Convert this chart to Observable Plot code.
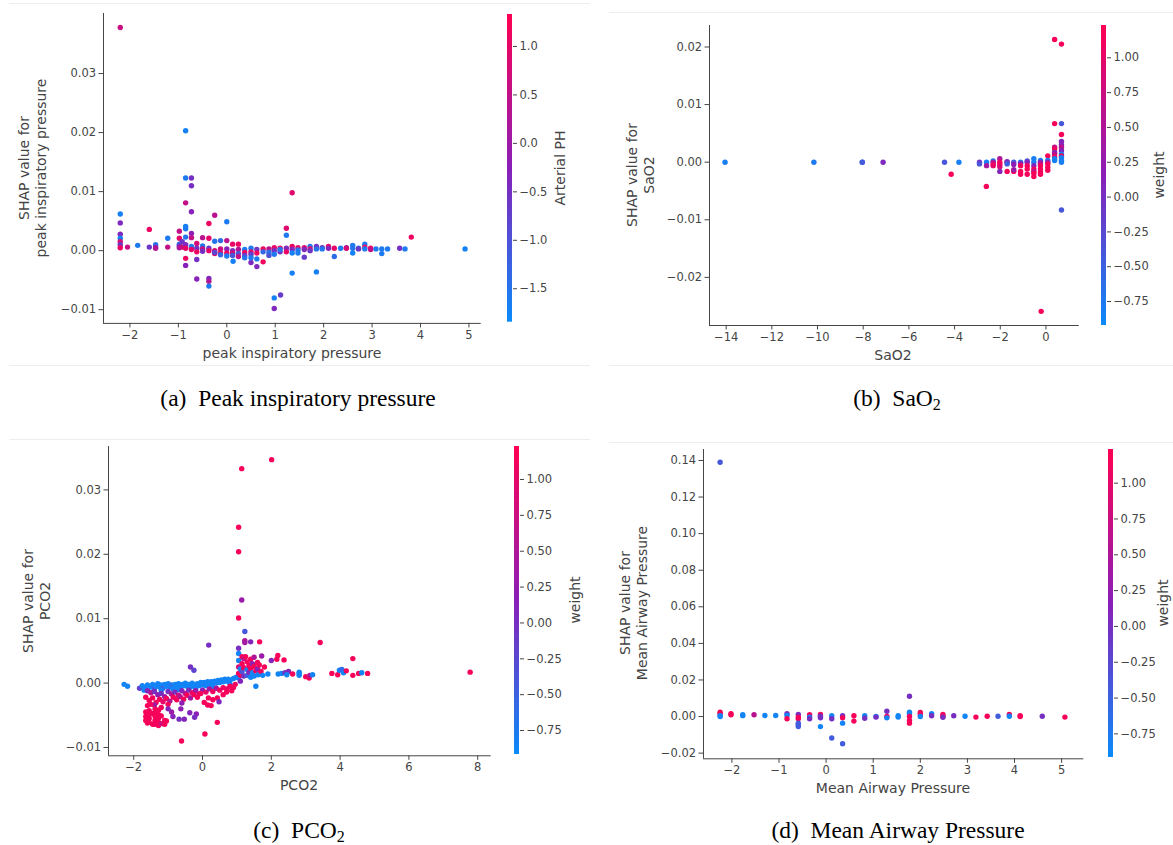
<!DOCTYPE html>
<html><head><meta charset="utf-8">
<script src="https://cdn.jsdelivr.net/npm/d3@7"></script>
<script src="https://cdn.jsdelivr.net/npm/@observablehq/plot@0.6"></script>
<style>
html,body{margin:0;padding:0;background:#fff;}
body{width:1173px;height:845px;position:relative;overflow:hidden;font-family:"DejaVu Sans",sans-serif;}
.abs{position:absolute;}
.lbl{position:absolute;color:#444;font-size:14px;white-space:nowrap;transform:translate(-50%,-50%);text-align:center;line-height:17px;}
.rot{transform:translate(-50%,-50%) rotate(-90deg);}
.cap{position:absolute;font-family:"Liberation Serif",serif;font-size:23.5px;color:#000;white-space:nowrap;transform:translate(-50%,-50%);line-height:26px;}
.cap sub{font-size:16px;vertical-align:-4px;line-height:0;}
.edge{position:absolute;height:1px;background:#eeeeee;}
</style></head>
<body>
<script>
// ---------- DATA ----------
// (a) Peak inspiratory pressure: [feature value, SHAP value, Arterial PH]
const pipPoints = [
 [-2.2,0.0378,0.6],[-2.2,0.0062,-1.7],[-2.2,0.0047,-0.4],[-2.2,0.0028,-0.4],[-2.2,0.0021,-1.7],[-2.2,0.0015,0.8],[-2.2,0.0010,-0.6],[-2.2,0.0005,1.1],
 [-2.05,0.0006,0.6],[-1.84,0.0009,-1.6],[-1.6,0.0036,1.1],[-1.6,0.0006,-0.6],
 [-1.47,0.0010,-1.5],[-1.47,0.0006,-0.5],[-1.47,0.0004,0.3],[-1.22,0.0021,-1.6],[-1.22,0.0006,0.5],
 [-0.98,0.0033,0.5],[-0.98,0.0021,1.0],[-0.98,0.0011,-1.5],[-0.98,0.0008,-0.5],[-0.98,0.0005,0.2],
 [-0.92,0.0015,-0.6],[-0.92,0.0006,0.6],
 [-0.85,0.0203,-1.7],[-0.85,0.0123,-1.6],[-0.85,0.0081,0.5],[-0.85,0.0041,-1.7],[-0.85,0.0037,-1.6],[-0.85,0.0023,-1.5],[-0.85,0.0010,-0.4],[-0.85,0.0004,1.0],[-0.85,-0.0013,1.1],[-0.85,-0.0025,-0.3],
 [-0.73,0.0123,-0.5],[-0.73,0.0110,-0.5],[-0.73,0.0066,-0.3],[-0.73,0.0029,-0.2],[-0.73,0.0022,0.5],[-0.73,0.0007,-1.6],[-0.73,0.0002,1.0],
 [-0.62,0.0012,0.8],[-0.62,0.0004,-0.5],[-0.62,-0.0002,1.1],[-0.62,-0.0015,-0.5],[-0.62,-0.0048,-0.3],
 [-0.5,0.0022,0.4],[-0.5,0.0008,-1.5],[-0.5,0.0003,0.7],[-0.5,-0.0001,-0.5],
 [-0.37,0.0046,1.1],[-0.37,0.0021,1.0],[-0.37,0.0004,-0.6],[-0.37,0.0,1.0],[-0.37,-0.0047,-0.4],[-0.37,-0.0052,0.3],[-0.37,-0.0060,-1.6],
 [-0.25,0.0060,0.4],[-0.25,0.0016,-1.5],[-0.25,0.0,0.8],[-0.25,-0.0005,1.0],[-0.25,-0.0003,-0.8],
 [-0.13,0.0017,-1.4],[-0.13,0.0003,0.6],[-0.13,-0.0004,1.0],[-0.13,-0.0007,-1.3],
 [0.0,0.0049,-1.6],[0.0,0.0017,0.4],[0.0,0.0003,-0.3],[0.0,-0.0004,1.1],[0.0,-0.0009,-1.6],
 [0.12,0.0011,1.0],[0.12,0.0,-0.5],[0.12,-0.0004,0.8],[0.13,-0.0018,-1.7],[0.12,-0.0008,-1.0],
 [0.24,0.0011,1.1],[0.24,0.0002,0.3],[0.24,-0.0005,-1.2],[0.24,-0.0010,0.5],
 [0.37,0.0002,-1.6],[0.37,-0.0003,1.1],[0.37,-0.0008,-0.6],[0.37,-0.0012,-1.5],
 [0.5,0.0004,-1.6],[0.5,-0.0002,1.0],[0.5,-0.0006,-0.7],[0.5,-0.0020,-0.4],[0.5,-0.0012,-1.6],
 [0.62,0.0002,-0.6],[0.62,-0.0004,1.1],[0.62,-0.0027,-0.4],[0.62,-0.0014,-1.6],
 [0.75,0.0003,1.1],[0.75,-0.0002,-1.3],[0.75,-0.0019,1.2],
 [0.87,0.0003,0.4],[0.87,-0.0003,-1.5],[0.87,-0.0008,-1.0],
 [0.98,0.0005,1.0],[0.98,0.0,-0.5],[0.98,-0.0006,-1.6],[0.98,-0.0080,-1.7],[0.98,-0.0098,-0.4],
 [1.11,-0.0075,-0.7],[1.1,0.0004,1.1],[1.1,-0.0002,-0.6],[1.1,0.0002,-1.5],
 [1.23,0.0038,0.9],[1.23,0.0026,-1.6],[1.23,0.0004,-0.4],[1.23,-0.0002,1.0],
 [1.35,0.0098,0.9],[1.35,0.0007,1.1],[1.35,0.0002,-0.4],[1.35,-0.0004,-1.7],[1.35,-0.0038,-1.7],
 [1.47,0.0005,1.0],[1.47,0.0001,-1.5],[1.47,-0.0004,-1.6],
 [1.6,0.0005,0.9],[1.6,0.0002,-0.4],[1.6,-0.0011,-0.7],
 [1.72,0.0007,-1.5],[1.72,0.0003,1.0],[1.72,0.0,-0.6],
 [1.85,0.0007,-0.5],[1.85,0.0003,-1.5],[1.85,-0.0036,-1.7],
 [1.97,0.0005,-0.5],[1.97,0.0003,-1.6],[2.1,0.0007,1.1],[2.1,0.0004,-0.3],
 [2.22,0.0004,1.0],[2.22,-0.0010,-1.4],[2.35,0.0004,-1.6],[2.47,0.0005,-0.5],[2.47,0.0004,0.8],
 [2.6,0.0009,-1.6],[2.6,0.0004,-1.5],[2.6,-0.0004,-1.7],[2.72,0.0004,-1.6],[2.72,0.0003,-0.6],
 [2.85,0.0011,-1.6],[2.85,0.0006,1.1],[2.85,0.0003,-1.6],[2.97,0.0004,1.1],[2.97,0.0002,0.5],
 [3.08,0.0003,-1.6],[3.2,0.0003,-1.6],[3.2,-0.0005,-1.6],[3.32,0.0003,-1.6],
 [3.57,0.0004,-0.5],[3.68,0.0003,-1.6],[3.81,0.0023,1.1],[4.92,0.0003,-1.7]
];
// (b) SaO2: [feature value, SHAP value, weight]
const sao2Points = [
 [-14.05,0,-0.8],[-10.16,0,-0.75],[-8.04,0,-0.5],[-8.04,0,-0.45],[-7.13,0,0.05],[-4.44,0,-0.4],[-3.81,0,-0.8],
 [-4.15,-0.0021,1.15],[-2.61,-0.0042,1.15],
 [-2.91,0,0.0],[-2.91,-0.0003,-0.4],[-2.6,0,-0.8],[-2.6,-0.0006,0.4],
 [-2.31,0.0002,-0.8],[-2.31,0,0.4],[-2.31,-0.0004,1.15],[-2.31,-0.0006,1.0],
 [-2.02,0.0006,0.5],[-2.02,0,1.1],[-2.02,-0.0004,1.15],[-2.02,-0.0008,0.9],[-2.02,-0.0016,0.1],
 [-1.7,0,1.15],[-1.7,0.0001,0.0],[-1.7,-0.0003,-0.5],[-1.7,-0.0016,1.15],
 [-1.41,0,-0.4],[-1.41,-0.0004,0.2],[-1.41,-0.0016,1.15],[-1.41,-0.0013,0.3],
 [-1.11,0,-0.8],[-1.11,-0.0002,0.1],[-1.11,-0.0006,1.15],[-1.11,-0.0016,1.15],[-1.11,-0.0021,1.15],
 [-0.82,0.0002,-0.4],[-0.82,0,0.1],[-0.82,-0.0006,1.15],[-0.82,-0.0012,1.15],[-0.82,-0.0021,1.15],
 [-0.53,0.0006,-0.8],[-0.53,0,-0.8],[-0.53,-0.0006,0.1],[-0.53,-0.0012,1.15],[-0.53,-0.0016,0.6],[-0.53,-0.0019,1.15],[-0.53,-0.0025,1.15],
 [-0.24,0.0003,-0.8],[-0.24,0,0.1],[-0.24,-0.0003,0.6],[-0.24,-0.0006,1.15],[-0.24,-0.0012,1.15],[-0.24,-0.0017,1.15],[-0.24,-0.0021,1.15],
 [0.08,0.0011,1.15],[0.08,0.0003,-0.8],[0.08,0,0.1],[0.08,-0.0003,1.15],[0.08,-0.0009,1.15],[0.08,-0.0014,1.15],
 [0.38,0.0213,1.15],[0.38,0.0067,1.15],[0.38,0.0026,0.6],[0.38,0.0023,1.15],[0.38,0.0017,0.1],[0.38,0.0014,0.6],[0.38,0.0009,1.15],[0.38,0.0006,-0.8],[0.38,0.0003,-0.8],
 [0.68,0.0205,1.15],[0.68,0.0067,-0.4],[0.68,0.0048,1.15],[0.68,0.0036,0.1],[0.68,0.0030,0.1],[0.68,0.0026,0.6],[0.68,0.0020,0.1],[0.68,0.0014,-0.8],[0.68,0.0011,1.15],[0.68,0.0008,-0.8],[0.68,0.0003,-0.8],[0.68,0.0,-0.8],[0.68,-0.0083,-0.4],
 [-0.21,-0.0259,1.15]
];
// (c) PCO2: [feature value, SHAP value, weight]
const pco2Points = [
 [-2.28,-0.0002,-0.85],[-2.18,-0.0005,-0.85],[-1.83,-0.0008,-0.2],
 [-1.75,-0.0004,-0.85],[-1.65,-0.0007,-0.85],[-1.6,-0.0003,-0.85],[-1.5,-0.0006,-0.85],[-1.45,-0.0002,-0.85],[-1.4,-0.0008,-0.6],[-1.35,-0.0004,-0.85],[-1.3,-0.0001,-0.85],[-1.25,-0.0006,-0.85],[-1.2,-0.0003,-0.85],[-1.15,-0.0008,-0.5],[-1.1,-0.0002,-0.85],[-1.05,-0.0005,-0.85],[-1.0,-0.0001,-0.85],[-0.95,-0.0006,-0.85],[-0.9,-0.0003,-0.7],[-0.85,-0.0009,-0.85],[-0.8,-0.0002,-0.85],[-0.75,-0.0005,-0.85],[-0.7,-0.0001,-0.85],[-0.65,-0.0006,-0.85],[-0.6,-0.0002,-0.85],[-0.55,-0.0004,-0.85],[-0.5,0.0,-0.85],[-0.45,-0.0005,-0.85],[-0.4,-0.0002,-0.85],[-0.35,-0.0006,-0.85],[-0.3,0.0,-0.85],[-0.25,-0.0003,-0.85],[-0.2,-0.0007,-0.85],[-0.15,-0.0001,-0.85],[-0.1,-0.0004,-0.85],[-0.05,0.0001,-0.85],[0.0,-0.0003,-0.85],[0.05,0.0001,-0.85],[0.1,-0.0004,-0.85],[0.15,0.0002,-0.85],[0.2,-0.0002,-0.85],[0.25,0.0002,-0.85],[0.3,-0.0001,-0.85],[0.35,0.0003,-0.85],[0.4,0.0,-0.85],[0.45,0.0004,-0.85],[0.5,0.0001,-0.85],[0.55,0.0005,-0.85],[0.6,0.0002,-0.85],[0.65,0.0006,-0.85],[0.7,0.0003,-0.85],[0.75,0.0006,-0.85],[0.8,0.0004,-0.85],[0.9,0.0007,-0.85],[0.98,0.0009,-0.85],
 [-1.7,-0.0011,-0.85],[-1.2,-0.0011,-0.85],[-0.7,-0.0010,-0.85],[-0.2,-0.0010,-0.85],[0.3,-0.0007,-0.85],[0.8,-0.0002,-0.85],
 [-1.6,-0.0012,0.1],[-1.5,-0.0015,0.6],[-1.4,-0.0013,0.0],[-1.3,-0.0018,0.2],[-1.2,-0.0016,0.0],[-1.1,-0.0021,0.3],[-1.0,-0.0013,0.0],[-0.9,-0.0017,0.5],[-0.8,-0.0014,0.0],[-0.7,-0.0019,0.8],[-0.6,-0.0012,0.1],[-0.5,-0.0016,0.6],[-0.4,-0.0011,0.0],[-0.3,-0.0015,1.0],[-0.2,-0.0012,0.3],[-0.1,-0.0017,0.9],[0.0,-0.0011,0.2],[0.1,-0.0014,1.0],[0.2,-0.0009,0.4],[0.3,-0.0013,1.1],[0.4,-0.0008,0.5],[0.5,-0.0011,1.1],[0.6,-0.0007,1.1],[0.7,-0.0009,1.1],[0.8,-0.0005,1.1],[0.9,-0.0007,1.15],[0.95,-0.0002,1.1],
 [-1.65,-0.0022,1.15],[-1.55,-0.0027,1.15],[-1.45,-0.0023,1.15],[-1.35,-0.0030,1.15],[-1.25,-0.0025,1.15],[-1.15,-0.0029,1.0],[-1.05,-0.0024,1.15],[-0.95,-0.0028,0.5],[-0.85,-0.0022,1.15],[-0.75,-0.0026,1.15],[-0.65,-0.0021,0.6],[-0.55,-0.0025,1.15],[-0.45,-0.0019,1.15],[-0.35,-0.0023,0.4],[-0.25,-0.0018,1.15],[-0.15,-0.0022,1.15],[-0.05,-0.0016,1.15],[0.05,-0.0030,1.15],[0.17,-0.0023,1.15],[0.3,-0.0026,1.15],[0.43,-0.0023,1.15],[0.48,-0.0029,0.1],[0.6,-0.0018,1.15],[0.7,-0.0014,1.15],[0.85,-0.0012,1.15],
 [-1.4,-0.0034,0.3],[-1.0,-0.0033,1.15],[-0.6,-0.0031,0.2],[0.15,-0.0034,1.15],[0.25,-0.0035,1.15],
 [-1.65,-0.0045,1.15],[-1.65,-0.0052,1.15],[-1.65,-0.0058,1.15],[-1.6,-0.0062,1.15],
 [-1.55,-0.0043,1.15],[-1.55,-0.0049,1.15],[-1.55,-0.0055,1.15],[-1.55,-0.0061,1.15],
 [-1.45,-0.0047,1.15],[-1.45,-0.0064,1.15],
 [-1.38,-0.0040,1.15],[-1.38,-0.0046,1.15],[-1.38,-0.0052,1.15],[-1.38,-0.0058,1.15],[-1.38,-0.0064,1.15],
 [-1.28,-0.0042,1.15],[-1.28,-0.0049,1.15],[-1.28,-0.0055,1.15],[-1.28,-0.0061,1.15],[-1.28,-0.0066,1.15],
 [-1.2,-0.0038,1.15],[-1.2,-0.0051,1.15],[-1.2,-0.0063,0.8],
 [-1.1,-0.0058,1.15],[-1.1,-0.0064,1.15],[-1.05,-0.0059,1.15],[-1.6,-0.0035,1.15],[-1.5,-0.0033,1.15],
 [-0.86,-0.0052,0.1],[-0.68,-0.0056,0.0],[-0.53,-0.0056,0.1],[-0.63,-0.0040,0.2],[-0.37,-0.0046,0.1],[-0.18,-0.0048,0.2],[-0.23,-0.0053,0.0],[-0.35,0.0025,0.0],[-0.25,0.0020,-0.2],[-0.9,-0.0045,0.3],[-1.0,-0.0040,0.1],
 [0.43,-0.0061,1.15],[0.07,-0.0079,1.15],[-0.61,-0.0090,1.15],
 [2.01,0.0347,1.15],[1.14,0.0333,1.15],[1.05,0.0242,1.15],[1.05,0.0204,1.15],[1.14,0.0129,0.3],[1.05,0.0101,1.15],[1.23,0.0080,-0.4],[0.18,0.0059,0.0],[1.23,0.0066,0.5],[1.23,0.0063,0.4],[1.4,0.0064,0.1],[1.66,0.0064,1.15],[3.42,0.0063,1.15],[4.37,0.0038,1.15],[7.78,0.0017,1.15],
 [1.05,0.0054,0.0],[1.05,0.0046,-0.85],[1.05,0.0035,-0.85],[1.05,0.0025,0.8],[1.05,0.0015,1.15],[1.05,0.0008,-0.85],[1.1,0.0022,-0.85],[1.1,0.0012,1.15],[1.1,0.0003,0.1],[1.15,0.0041,1.15],[1.15,0.0030,1.15],[1.15,0.0018,-0.4],[1.2,0.0038,0.6],[1.2,0.0024,1.15],[1.2,0.0011,0.0],[1.25,0.0041,1.15],[1.3,0.0033,1.15],[1.3,0.0021,-0.85],[1.3,0.0012,-0.5],[1.35,0.0027,1.15],[1.35,0.0017,0.1],[1.4,0.0037,1.15],[1.4,0.0023,1.15],[1.4,0.0009,-0.85],[1.45,0.0030,0.2],[1.45,0.0016,-0.85],[1.5,0.0026,1.15],[1.5,0.0040,0.5],[1.5,0.0011,-0.85],[1.55,0.0019,1.15],[1.55,-0.0005,-0.85],[1.6,0.0032,1.15],[1.6,0.0022,0.1],[1.62,0.0013,-0.85],[1.65,0.0028,1.15],[1.7,0.0018,1.15],[1.72,0.0042,0.3],[1.75,0.0012,-0.85],[1.8,0.0025,1.15],
 [1.9,0.0014,-0.85],[2.0,0.0035,0.1],[2.16,0.0037,1.15],[2.19,0.0043,1.15],[2.37,0.0036,1.15],[2.2,0.0014,-0.85],[2.3,0.0015,-0.85],[2.4,0.0016,0.0],[2.5,0.0018,0.1],[2.45,0.0013,-0.85],[2.62,0.0014,1.15],[2.81,0.0017,-0.85],[2.81,0.0015,-0.85],[2.81,0.0012,-0.85],[3.0,0.0010,1.15],[3.1,0.0008,1.15],[3.12,0.0012,0.5],[3.2,0.0013,-0.85],[3.76,0.0015,1.15],[3.93,0.0013,1.15],[3.98,0.0020,-0.85],[4.05,0.0021,-0.6],[4.1,0.0016,-0.85],[4.18,0.0019,1.15],[4.37,0.0012,1.15],[4.54,0.0015,1.15],[4.63,0.0016,-0.85],[4.8,0.0015,1.15]
];
// (d) Mean Airway Pressure: [feature value, SHAP value, weight]
const mapPoints = [
 [-2.25,0.139,-0.4],[-2.25,0.0024,1.15],[-2.25,0.0015,1.15],[-2.25,0.0005,-0.85],[-2.25,0.0,-0.85],
 [-2.02,0.0015,1.15],[-2.02,0.0010,1.15],[-1.77,0.0010,-0.85],[-1.77,0.0005,-0.85],
 [-1.53,0.0010,0.6],[-1.30,0.0006,-0.85],[-1.07,0.0006,-0.85],
 [-0.83,0.0015,0.0],[-0.83,0.0006,-0.85],[-0.83,-0.0012,1.15],
 [-0.59,0.0011,0.0],[-0.59,-0.0003,1.15],[-0.59,-0.0012,1.15],[-0.59,-0.0036,-0.45],[-0.59,-0.0045,-0.45],[-0.59,-0.0055,-0.45],
 [-0.35,0.0010,1.15],[-0.35,-0.0003,-0.85],[-0.35,-0.0012,0.0],
 [-0.12,0.0011,1.15],[-0.12,0.0002,0.0],[-0.12,-0.0007,0.0],[-0.12,-0.0055,-0.85],
 [0.12,0.0004,-0.85],[0.12,-0.0012,0.0],[0.12,-0.0117,-0.45],
 [0.35,0.0004,0.0],[0.35,-0.0007,1.15],[0.35,-0.0036,-0.85],[0.35,-0.0149,-0.45],
 [0.59,0.0004,1.15],[0.59,-0.0025,1.15],
 [0.82,0.0004,-0.85],[0.82,-0.0009,0.0],
 [1.06,0.0,-0.85],[1.06,-0.0003,0.0],
 [1.29,0.0029,0.0],[1.29,0.0,1.15],[1.29,-0.0007,-0.85],
 [1.53,0.0004,-0.85],[1.53,-0.0003,-0.85],
 [1.77,0.0111,0.0],[1.77,0.0024,-0.85],[1.77,0.0015,-0.85],[1.77,0.0,1.15],[1.77,-0.0022,1.15],[1.77,-0.0036,1.15],
 [2.0,0.0022,1.15],[2.0,0.0011,1.15],[2.0,0.0,-0.85],
 [2.24,0.0015,-0.85],[2.24,0.0004,0.0],
 [2.48,0.0011,1.15],[2.48,0.0,1.15],[2.48,-0.0004,0.0],
 [2.71,0.0004,0.0],[2.95,0.0002,-0.85],[3.18,-0.0003,1.15],[3.42,0.0002,1.15],[3.65,0.0002,-0.45],
 [3.89,0.0011,1.15],[3.89,0.0002,-0.85],[4.12,0.0004,1.15],[4.12,0.0,1.15],[4.59,0.0002,0.0],[5.07,-0.0003,1.15]
];
// tick values
const pipXTicks = [-2,-1,0,1,2,3,4,5];
const pipYTicks = [-0.01,0,0.01,0.02,0.03];
const sao2XTicks = [-14,-12,-10,-8,-6,-4,-2,0];
const sao2YTicks = [-0.02,-0.01,0,0.01,0.02];
const pco2XTicks = [-2,0,2,4,6,8];
const pco2YTicks = [-0.01,0,0.01,0.02,0.03];
const mapXTicks = [-2,-1,0,1,2,3,4,5];
const mapYTicks = [-0.02,0,0.02,0.04,0.06,0.08,0.10,0.12,0.14];
const phTicks = [-1.5,-1.0,-0.5,0.0,0.5,1.0];
const weightTicks = [-0.75,-0.5,-0.25,0,0.25,0.5,0.75,1.0];

// ---------- LAYOUT ----------
const CMAP = ["#0a8bfa", "#8a1fb8", "#ff0052"];
const panels = [
 {points: pipPoints, frame:{l:103.3,t:12.8,r:481,b:322.7}, xDomain:[-2.546,5.253], yDomain:[-0.01232,0.04017],
  xTicks: pipXTicks, yTicks: pipYTicks, yFmt: ".2f", cDomain:[-1.845,1.33], cTicks: phTicks, cFmt: ".1f",
  bar:{l:506.5,r:511.5,t:14,b:321.7},
  yLabel:["SHAP value for","peak inspiratory pressure"], yLabelPos:[33,168], xLabel:"peak inspiratory pressure", xLabelPos:[292,353],
  cLabel:"Arterial PH", cLabelPos:[560,168], caption:"(a)&nbsp;&nbsp;Peak inspiratory pressure", capPos:[298,398],
  edges:[[9,3,581],[9,365,581]]},
 {points: sao2Points, frame:{l:709,t:25,r:1078.8,b:325}, xDomain:[-14.73,1.46], yDomain:[-0.02835,0.02373],
  xTicks: sao2XTicks, yTicks: sao2YTicks, yFmt: ".2f", cDomain:[-0.922,1.232], cTicks: weightTicks, cFmt: ".2f",
  bar:{l:1101,r:1106,t:25,b:325},
  yLabel:["SHAP value for","SaO2"], yLabelPos:[641,175], xLabel:"SaO2", xLabelPos:[893,355],
  cLabel:"weight", cLabelPos:[1159,175], caption:"(b)&nbsp;&nbsp;SaO<sub>2</sub>", capPos:[897,398],
  edges:[[609,12,564],[609,365,564]]},
 {points: pco2Points, frame:{l:107.8,t:445.7,r:490.5,b:755}, xDomain:[-2.733,8.392], yDomain:[-0.01129,0.03674],
  xTicks: pco2XTicks, yTicks: pco2YTicks, yFmt: ".2f", cDomain:[-0.917,1.23], cTicks: weightTicks, cFmt: ".2f",
  bar:{l:513.5,r:518.5,t:446,b:754},
  yLabel:["SHAP value for","PCO2"], yLabelPos:[37,601], xLabel:"PCO2", xLabelPos:[299,785],
  cLabel:"weight", cLabelPos:[575,600], caption:"(c)&nbsp;&nbsp;PCO<sub>2</sub>", capPos:[299,830],
  edges:[[9,439,581]]},
 {points: mapPoints, frame:{l:703.4,t:449,r:1083.7,b:758.3}, xDomain:[-2.603,5.471], yDomain:[-0.0231,0.146],
  xTicks: mapXTicks, yTicks: mapYTicks, yFmt: ".2f", cDomain:[-0.915,1.235], cTicks: weightTicks, cFmt: ".2f",
  bar:{l:1107.5,r:1112.5,t:449,b:757},
  yLabel:["SHAP value for","Mean Airway Pressure"], yLabelPos:[634,603], xLabel:"Mean Airway Pressure", xLabelPos:[893,788],
  cLabel:"weight", cLabelPos:[1163,603], caption:"(d)&nbsp;&nbsp;Mean Airway Pressure", capPos:[898,830],
  edges:[[609,442,564]]}
];

const AXC = "#444";
const style = {fontFamily:"DejaVu Sans", fontSize:"11.5px", color:AXC, background:"transparent", overflow:"visible"};

function place(el, left, top) {
  const d = document.createElement("div");
  d.className = "abs"; d.style.left = left + "px"; d.style.top = top + "px";
  d.appendChild(el); document.body.appendChild(d);
}
function label(html, x, y, cls) {
  const d = document.createElement("div");
  d.className = cls; d.innerHTML = html;
  d.style.left = x + "px"; d.style.top = y + "px";
  document.body.appendChild(d);
}

for (const p of panels) {
  for (const [x, y, w] of p.edges) {
    const e = document.createElement("div"); e.className = "edge";
    e.style.left = x + "px"; e.style.top = y + "px"; e.style.width = w + "px";
    document.body.appendChild(e);
  }
  const [lo, hi] = p.cDomain;
  const colorOpt = {type:"linear", domain:[lo, lo + 0.5 * (hi - lo), hi], range: CMAP, interpolate:"rgb"};
  const mL = 70, mT = 10, mR = 10, mB = 30;
  const W = (p.frame.r - p.frame.l) + mL + mR, H = (p.frame.b - p.frame.t) + mT + mB;
  const chart = Plot.plot({
    width: W, height: H, marginLeft: mL, marginTop: mT, marginRight: mR, marginBottom: mB,
    x: {domain: p.xDomain}, y: {domain: p.yDomain}, color: colorOpt, style,
    marks: [
      Plot.dot(p.points, {x: d => d[0], y: d => d[1], fill: d => d[2], r: 2.7}),
      Plot.ruleX([p.xDomain[0]], {stroke: AXC, strokeWidth: 1}),
      Plot.ruleY([p.yDomain[0]], {stroke: AXC, strokeWidth: 1}),
      Plot.axisX(p.xTicks, {tickFormat: d3.format("d"), tickSize: 4.5, tickPadding: 3, label: null, stroke: AXC}),
      Plot.axisY(p.yTicks, {tickFormat: d3.format(p.yFmt), tickSize: 4.5, tickPadding: 3, label: null, stroke: AXC})
    ]
  });
  place(chart, p.frame.l - mL, p.frame.t - mT);

  // colorbar
  const n = 240, step = (hi - lo) / n;
  const stops = d3.range(n).map(i => lo + step * i);
  const bw = p.bar.r - p.bar.l, cbT = 10, cbB = 10, cbR = 50;
  const cb = Plot.plot({
    width: bw + cbR, height: (p.bar.b - p.bar.t) + cbT + cbB,
    marginLeft: 0, marginRight: cbR, marginTop: cbT, marginBottom: cbB,
    x: {domain:[0,1], axis:null}, y: {domain: p.cDomain}, color: colorOpt, style,
    marks: [
      Plot.rect(stops, {x1: () => 0, x2: () => 1, y1: d => d, y2: d => Math.min(d + step * 1.6, hi), fill: d => d + step / 2}),
      Plot.axisY(p.cTicks, {anchor: "right", tickFormat: d3.format(p.cFmt), tickSize: 4, tickPadding: 3, label: null, stroke: AXC})
    ]
  });
  place(cb, p.bar.l, p.bar.t - cbT);

  label(p.yLabel.join("<br>"), p.yLabelPos[0], p.yLabelPos[1], "lbl rot");
  label(p.xLabel, p.xLabelPos[0], p.xLabelPos[1], "lbl");
  label(p.cLabel, p.cLabelPos[0], p.cLabelPos[1], "lbl rot");
  label(p.caption, p.capPos[0], p.capPos[1], "cap");
}
</script>
</body></html>
